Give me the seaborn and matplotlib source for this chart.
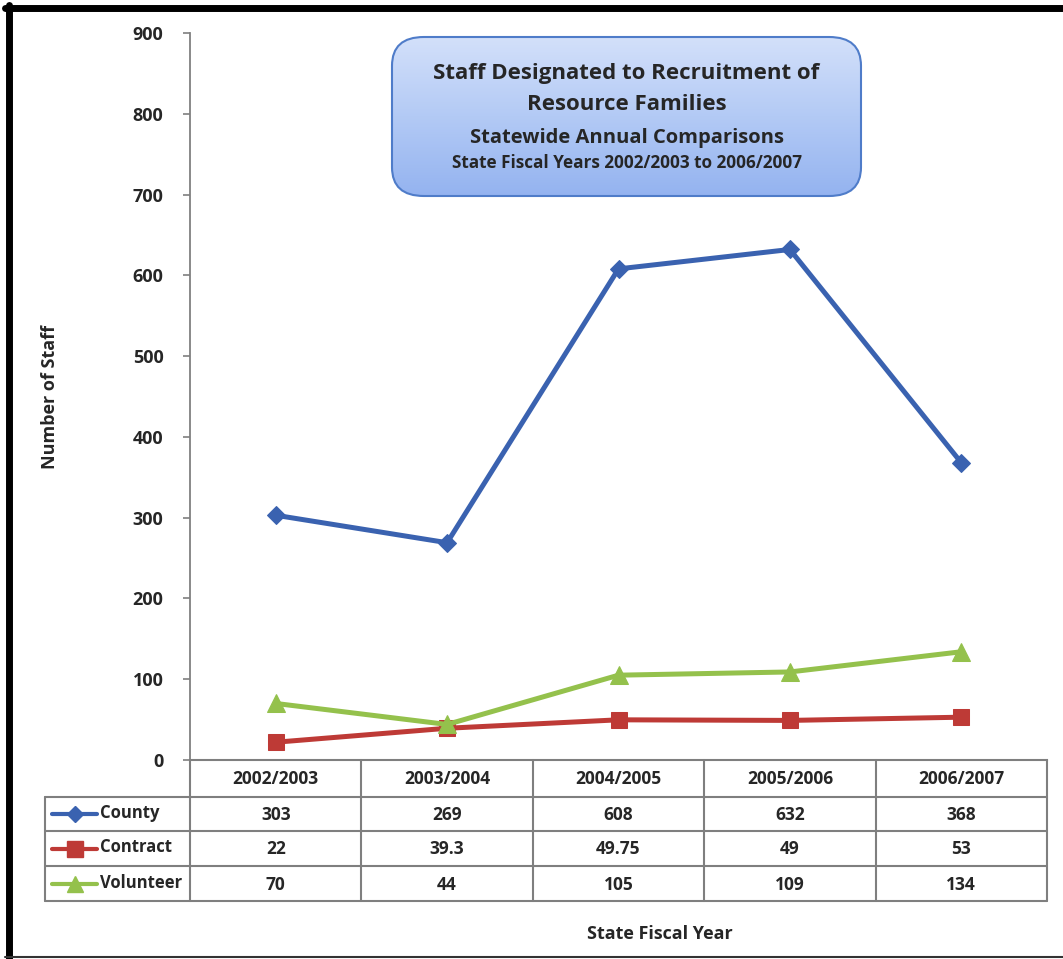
import numpy as np
import pandas as pd
import matplotlib
matplotlib.use('Agg')
import matplotlib.pyplot as plt
import seaborn as sns
from matplotlib.patches import FancyBboxPatch
from matplotlib.lines import Line2D

# podaci
years = ['2002/2003', '2003/2004', '2004/2005', '2005/2006', '2006/2007']
county = [303, 269, 608, 632, 368]
contract = [22, 39.3, 49.75, 49, 53]
volunteer = [70, 44, 105, 109, 134]
county_lbl = ['303', '269', '608', '632', '368']
contract_lbl = ['22', '39.3', '49.75', '49', '53']
volunteer_lbl = ['70', '44', '105', '109', '134']
series_names = ['County', 'Contract', 'Volunteer']
y_ticks = [0, 100, 200, 300, 400, 500, 600, 700, 800, 900]

colors = ['#3a62b0', '#be3a36', '#94c14c']
markers = ['D', 's', '^']
msizes = [9, 12, 13]

sns.set_style('white')
plt.rcParams['font.family'] = ['Open Sans', 'DejaVu Sans']
plt.rcParams['font.weight'] = 'bold'

W, H = 1063, 959
fig = plt.figure(figsize=(W / 100, H / 100), dpi=100)
fig.patch.set_facecolor('white')

def fx(px):
    return px / W

def fy(py):
    return 1 - py / H

ax_l, ax_r, ax_t, ax_b = 190, 1047, 33, 760
ax = fig.add_axes([fx(ax_l), fy(ax_b), fx(ax_r - ax_l), fy(ax_t) - fy(ax_b)])
ax.set_facecolor('none')

df = pd.DataFrame({
    'year': years * 3,
    'value': county + contract + volunteer,
    'series': [s for s in series_names for _ in years],
})

for name, c, m, ms in zip(series_names, colors, markers, msizes):
    sub = df[df['series'] == name]
    sns.lineplot(data=sub, x='year', y='value', ax=ax, color=c, marker=m,
                 markersize=ms, markeredgecolor=c, linewidth=3.6, sort=False)

ax.set_xlim(-0.5, len(years) - 0.5)
ax.set_ylim(0, 900)
ax.set_yticks(y_ticks)
ax.set_yticklabels([str(t) for t in y_ticks], fontsize=13, fontweight='bold')
ax.set_xticks([])
ax.set_xlabel('')
ax.set_ylabel('')
ax.tick_params(axis='y', direction='out', length=5, width=1.2, color='#7f7f7f', pad=14, left=True)
for s in ['top', 'right']:
    ax.spines[s].set_visible(False)
ax.spines['left'].set_color('#808080')
ax.spines['left'].set_linewidth(1.3)
ax.spines['bottom'].set_color('#7f7f7f')
ax.spines['bottom'].set_linewidth(1.5)

# tabela podataka ispod grafika
gc = '#7f7f7f'
col_edges = np.linspace(ax_l, ax_r, len(years) + 1)
rows = [760, 797, 831, 866, 901]
tab_left = 45

def hline(y, x0, x1):
    fig.add_artist(Line2D([fx(x0), fx(x1)], [fy(y), fy(y)], color=gc, lw=1.5))

def vline(x, y0, y1):
    fig.add_artist(Line2D([fx(x), fx(x)], [fy(y0), fy(y1)], color=gc, lw=1.5))

for y in rows[1:]:
    hline(y, tab_left, ax_r)
for x in col_edges:
    vline(x, rows[0], rows[-1])
vline(tab_left, rows[1], rows[-1])

centers = (col_edges[:-1] + col_edges[1:]) / 2
for cx, yr in zip(centers, years):
    fig.text(fx(cx), fy((rows[0] + rows[1]) / 2 + 1), yr, ha='center', va='center',
             fontsize=12.5, fontweight='bold')

labels = [county_lbl, contract_lbl, volunteer_lbl]
for i, (name, c, m, ms, lbls) in enumerate(zip(series_names, colors, markers, msizes, labels)):
    yc = (rows[i + 1] + rows[i + 2]) / 2
    fig.add_artist(Line2D([fx(52), fx(97)], [fy(yc), fy(yc)], color=c, lw=3))
    fig.add_artist(Line2D([fx(74.5)], [fy(yc)], color=c, marker=m, markersize=ms - 1,
                          markeredgecolor=c, lw=0))
    fig.text(fx(100), fy(yc - 1), name, ha='left', va='center', fontsize=12, fontweight='bold')
    for cx, t in zip(centers, lbls):
        fig.text(fx(cx), fy(yc + 1), t, ha='center', va='center', fontsize=12.5, fontweight='bold')

# naslovi osa
fig.text(fx(660), fy(934), 'State Fiscal Year', ha='center', va='center',
         fontsize=13, fontweight='bold')
fig.text(fx(50), fy(397), 'Number of Staff', ha='center', va='center',
         rotation=90, fontsize=13, fontweight='bold')

# naslov u zaobljenom plavom okviru sa gradijentom
bx0, by0, bx1, by1 = 392, 37, 861, 196
box = FancyBboxPatch((fx(bx0), fy(by1)), fx(bx1 - bx0), fy(by0) - fy(by1),
                     boxstyle='round,pad=0,rounding_size=0.03',
                     transform=fig.transFigure, facecolor='none',
                     edgecolor='#4f7cc9', lw=1.5, zorder=6)
fig.add_artist(box)
grad = np.linspace(0, 1, 256).reshape(-1, 1)
cmap = matplotlib.colors.LinearSegmentedColormap.from_list('g', ['#d3e0fa', '#b3caf5', '#94b3f0'])
gax = fig.add_axes([0, 0, 1, 1], zorder=5)
gax.axis('off')
gax.set_xlim(0, 1)
gax.set_ylim(0, 1)
im = gax.imshow(grad, extent=[fx(bx0), fx(bx1), fy(by1), fy(by0)], origin='upper',
                cmap=cmap, aspect='auto', zorder=1)
clip = FancyBboxPatch((fx(bx0), fy(by1)), fx(bx1 - bx0), fy(by0) - fy(by1),
                      boxstyle='round,pad=0,rounding_size=0.03',
                      transform=gax.transData, facecolor='none', edgecolor='none')
gax.add_patch(clip)
im.set_clip_path(clip)

tcx = fx((bx0 + bx1) / 2)
fig.text(tcx, fy(74), 'Staff Designated to Recruitment of', ha='center', va='center',
         fontsize=16, fontweight='bold', zorder=7)
fig.text(tcx, fy(105), 'Resource Families', ha='center', va='center',
         fontsize=16, fontweight='bold', zorder=7)
fig.text(tcx, fy(138), 'Statewide Annual Comparisons', ha='center', va='center',
         fontsize=14.5, fontweight='bold', zorder=7)
fig.text(tcx, fy(163), 'State Fiscal Years 2002/2003 to 2006/2007', ha='center', va='center',
         fontsize=12.3, fontweight='bold', zorder=7)

# crni okvir slike
fig.add_artist(Line2D([fx(5), fx(W)], [fy(7.5), fy(7.5)], color='black', lw=5))
fig.add_artist(Line2D([fx(8.5), fx(8.5)], [fy(5), fy(H)], color='black', lw=5))
fig.add_artist(Line2D([fx(5), fx(W)], [fy(957), fy(957)], color='#333333', lw=1.5))

fig.savefig('out.png', dpi=100)
plt.close(fig)
